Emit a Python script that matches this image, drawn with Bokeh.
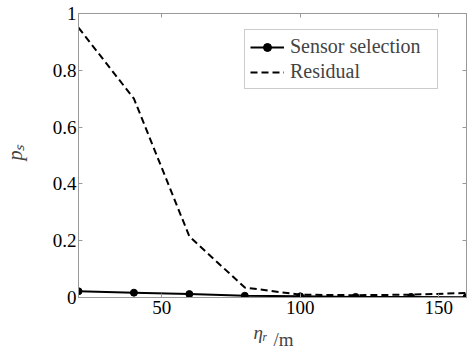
import math
from bokeh.plotting import figure
from bokeh.models import Label, LinearAxis, FixedTicker, Range1d, Legend, LegendItem
from bokeh.embed import file_html
from bokeh.resources import INLINE

eta_r = [20, 40, 60, 80, 100, 120, 140, 160]
sensor_selection = [0.022, 0.017, 0.012, 0.006, 0.004, 0.002, 0.002, 0.001]
residual = [0.95, 0.70, 0.215, 0.035, 0.010, 0.008, 0.010, 0.016]
x_ticks = [50, 100, 150]
y_ticks = [0, 0.2, 0.4, 0.6, 0.8, 1]
y_tick_labels = {0: "0", 0.2: "0.2", 0.4: "0.4", 0.6: "0.6", 0.8: "0.8", 1: "1"}

FONT = "Liberation Serif"
AX = "#999999"

p = figure(width=470, height=349, output_backend="svg", toolbar_location=None,
           x_range=Range1d(20, 160), y_range=Range1d(0, 1),
           min_border_left=78, min_border_right=4, min_border_top=13, min_border_bottom=52)
p.outline_line_color = AX
p.xgrid.visible = False
p.ygrid.visible = False

top = LinearAxis()
p.add_layout(top, "above")
right = LinearAxis()
p.add_layout(right, "right")

p.xaxis.ticker = FixedTicker(ticks=x_ticks)
p.yaxis.ticker = FixedTicker(ticks=y_ticks)
p.axis.axis_line_color = AX
p.axis.major_tick_line_color = AX
p.axis.minor_tick_line_color = None
p.axis.major_tick_in = 4
p.axis.major_tick_out = 0
p.axis.major_label_text_font = FONT
p.axis.major_label_text_font_size = "19px"
p.axis.major_label_text_color = "black"
p.axis.major_label_standoff = 3
p.xaxis[0].major_label_standoff = 6
p.yaxis[0].major_label_standoff = 2
p.yaxis[0].major_label_overrides = y_tick_labels
top.major_label_overrides = {t: "" for t in x_ticks}
right.major_label_overrides = {t: "" for t in y_ticks}
top.major_label_standoff = 0
right.major_label_standoff = 0

r_res = p.line(eta_r, residual, line_color="black", line_width=2, line_dash="7 4")
r_sel = p.line(eta_r, sensor_selection, line_color="black", line_width=2)
r_sel_m = p.scatter(eta_r, sensor_selection, size=7, marker="circle",
                    fill_color="black", line_color="black")

legend = Legend(items=[LegendItem(label="Sensor selection", renderers=[r_sel, r_sel_m]),
                       LegendItem(label="Residual", renderers=[r_res])],
                location=(166, 208))
legend.label_text_font = FONT
legend.label_text_font_size = "20px"
legend.border_line_color = AX
legend.border_line_width = 1
legend.glyph_width = 34
legend.glyph_height = 20
legend.label_height = 20
legend.label_width = 142
legend.spacing = 2
legend.padding = 5
legend.margin = 0
legend.label_standoff = 6
legend.background_fill_alpha = 1
p.add_layout(legend, "center")

# y axis label p_s (rotated), in the left panel
p.add_layout(Label(x=-13, y=137, x_units="screen", y_units="screen", text="pₛ", angle=math.pi/2,
                   text_font=FONT, text_font_style="italic", text_font_size="20px",
                   text_baseline="alphabetic"), "left")
# "/m" part of the x label, also held in the left panel
p.add_layout(Label(x=266, y=-42, x_units="screen", y_units="screen", text="/m",
                   text_font=FONT, text_font_size="19px", text_baseline="alphabetic"), "left")
# eta_r in the below panel
p.add_layout(Label(x=175, y=5, x_units="screen", y_units="screen", text="ηᵣ",
                   text_font=FONT, text_font_style="italic", text_font_size="19px",
                   text_baseline="alphabetic"), "below")

open("out.html", "w").write(file_html(p, INLINE))
